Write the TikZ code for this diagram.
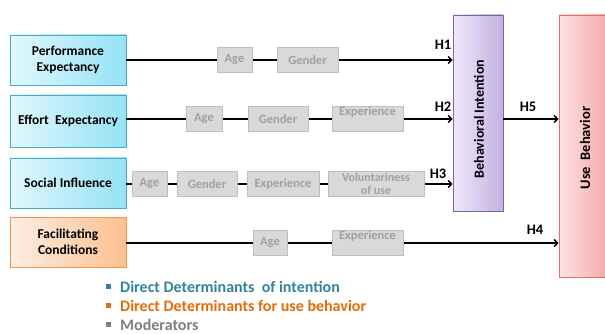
\documentclass[tikz,border=0pt]{standalone}
\usepackage{fontspec}
\setmainfont{Carlito}
\usetikzlibrary{arrows.meta,shadings}
\definecolor{cyanB}{HTML}{4BACC6}
\definecolor{cyanL}{HTML}{E2F8FE}
\definecolor{cyanR}{HTML}{95E2F5}
\definecolor{orB}{HTML}{F79646}
\definecolor{orL}{HTML}{FEEEE2}
\definecolor{orR}{HTML}{FBC08F}
\definecolor{puB}{HTML}{8064A2}
\definecolor{puL}{HTML}{EEE9F8}
\definecolor{puR}{HTML}{C2B1E2}
\definecolor{reB}{HTML}{E07070}
\definecolor{reL}{HTML}{FFE3E3}
\definecolor{reR}{HTML}{F5A3A3}
\definecolor{modF}{HTML}{D9D9D9}
\definecolor{modB}{HTML}{BFBFBF}
\definecolor{modT}{HTML}{A0A0A0}
\definecolor{legT}{HTML}{31849B}
\definecolor{legO}{HTML}{E46C0A}
\definecolor{legG}{HTML}{7F7F7F}
\tikzset{
  mainbox/.style={draw=#1B, left color=#1L, right color=#1R, line width=0.9pt,
    minimum width=116pt, minimum height=50pt, inner sep=0pt, align=center,
    font=\bfseries\fontsize{13.5}{16}\selectfont},
  mod/.style={draw=modB, fill=modF, line width=1pt, text=modT, minimum height=25pt,
    inner sep=0pt, align=center, font=\bfseries\fontsize{12.5}{13}\selectfont},
  modtop/.style={mod, text height=8pt, text depth=15pt},
  link/.style={line width=1.4pt},
  arr/.style={line width=1.4pt, -{Straight Barb[length=3.5pt,width=7pt,line width=1.3pt]}},
  hlab/.style={font=\bfseries\fontsize{14.5}{16}\selectfont, inner sep=0pt}
}
\begin{document}
\begin{tikzpicture}[x=1pt,y=-1pt]
\useasboundingbox (0,0) rectangle (605,334);
% main boxes
\node[mainbox=cyan] (PE) at (68,60) {Performance\\Expectancy};
\node[mainbox=cyan, minimum height=52pt] (EE) at (68,121) {Effort\ \ Expectancy};
\node[mainbox=cyan] (SI) at (68,183) {Social Influence};
\node[mainbox=or] (FC) at (68,242) {Facilitating\\Conditions};
\node[mainbox=pu, minimum width=50pt, minimum height=196pt] (BI) at (478,113) {};
\node[rotate=90, font=\bfseries\fontsize{14}{16}\selectfont] (BIt) at (479,119) {Behavioral Intention};
\node[mainbox=re, minimum width=52pt, minimum height=262pt] (UB) at (585,146) {};
\node[rotate=90, font=\bfseries\fontsize{14.5}{16}\selectfont] (UBt) at (585,148) {Use\ \ Behavior};
% row 1
\node[mod, minimum width=35pt] (A1) at (234.5,60) {Age};
\node[mod, minimum width=61pt] (G1) at (307.5,60) {Gender};
% row 2
\node[mod, minimum width=36pt] (A2) at (204,119) {Age};
\node[mod, minimum width=60pt] (G2) at (278,119) {Gender};
\node[modtop, minimum width=71pt] (X2) at (367.5,119) {Experience};
% row 3
\node[mod, minimum width=35pt] (A3) at (149.5,184) {Age};
\node[mod, minimum width=60pt] (G3) at (207,184) {Gender};
\node[mod, minimum width=72pt] (X3) at (283,184) {Experience};
\node[mod, minimum width=96pt, font=\bfseries\fontsize{12}{12.5}\selectfont] (V3) at (376,184) {Voluntariness\\of use};
% row 4
\node[mod, minimum width=34pt] (A4) at (270,243) {Age};
\node[modtop, minimum width=71pt] (X4) at (367.5,243) {Experience};
% connectors
\draw[link] (PE) -- (A1); \draw[link] (A1) -- (G1);
\draw[arr] (G1) -- (G1 -| BI.west);
\draw[link] (EE.east |- A2) -- (A2); \draw[link] (A2) -- (G2); \draw[link] (G2) -- (X2);
\draw[arr] (X2) -- (X2 -| BI.west);
\draw[link] (SI.east |- A3) -- (A3); \draw[link] (A3) -- (G3); \draw[link] (G3) -- (X3); \draw[link] (X3) -- (V3);
\draw[arr] (V3) -- (V3 -| BI.west);
\draw[link] (FC.east |- A4) -- (A4); \draw[link] (A4) -- (X4);
\draw[arr] (X4) -- (X4 -| UB.west);
\draw[arr] (X2 -| BI.east) -- (X2 -| UB.west);
% labels
\node[hlab] (H1) at (443,45) {H1};
\node[hlab] (H2) at (443,107) {H2};
\node[hlab] (H3) at (438,174) {H3};
\node[hlab] (H4) at (535,230) {H4};
\node[hlab] (H5) at (528,107) {H5};
% legend
\node[anchor=north west, align=left, inner sep=0pt, font=\bfseries\fontsize{16}{19}\selectfont] (leg) at (106,281) {%
{\color{legT}\raisebox{3pt}{\rule{5pt}{5pt}}\hspace{9pt}Direct Determinants\ \ of intention}\\
{\color{legO}\raisebox{3pt}{\rule{5pt}{5pt}}\hspace{9pt}Direct Determinants for use behavior}\\
{\color{legG}\raisebox{3pt}{\rule{5pt}{5pt}}\hspace{9pt}Moderators}};
\end{tikzpicture}
\end{document}
